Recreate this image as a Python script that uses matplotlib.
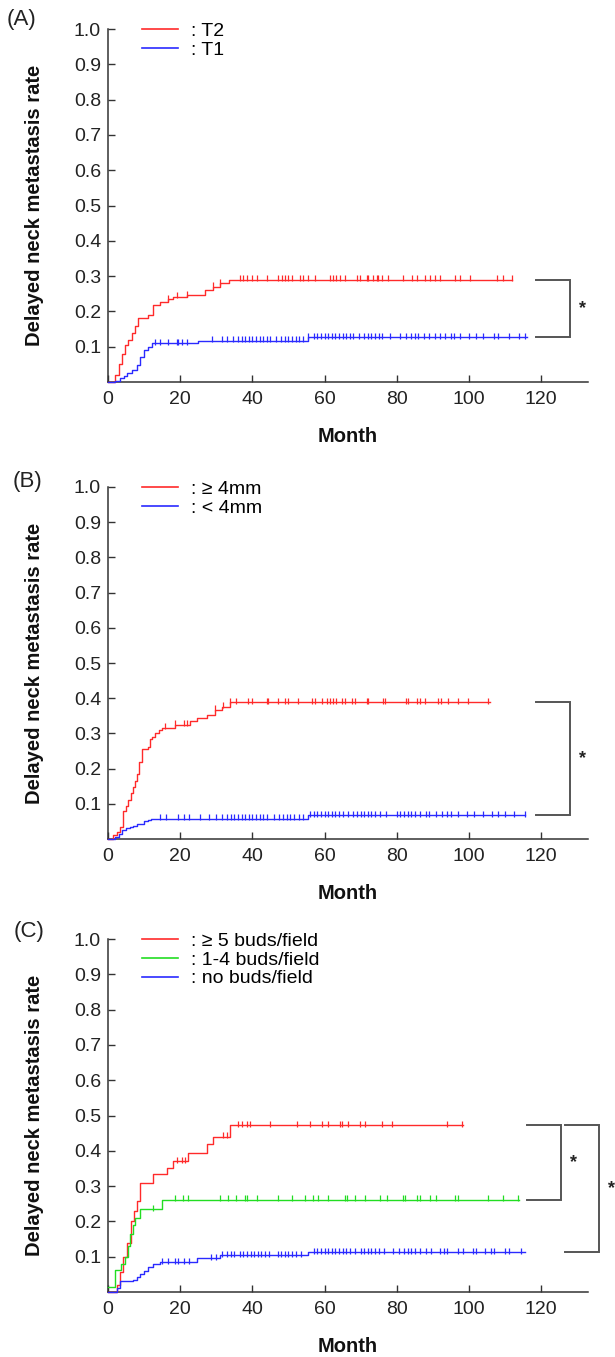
import numpy as np
import matplotlib
matplotlib.use("Agg")
import matplotlib.pyplot as plt
from matplotlib.lines import Line2D

plt.rcParams['font.family'] = ['Liberation Sans', 'DejaVu Sans']

RED = '#ff2a2a'
BLUE = '#2a2aff'
GREEN = '#22dd22'

# ---------------- Data ----------------
# Panel A
A_T2_times = [0, 2, 3, 4, 4.7, 5.5, 6.6, 7.5, 8.4, 11.2, 12.6, 14.4, 16.5, 18.1, 21.8, 26.9, 29.2, 31.0, 33.4]
A_T2_vals = [0, 0.02, 0.05, 0.08, 0.105, 0.12, 0.138, 0.16, 0.18, 0.19, 0.218, 0.228, 0.235, 0.242, 0.246, 0.26, 0.27, 0.28, 0.29]
A_T2_end = 112
A_T2_cens = [16.7, 19.0, 21.8, 29.2, 31.0, 36.6, 37.5, 38.4, 39.8, 41.2, 44.0, 47.2, 48.1, 49.0, 50.0,
             50.9, 53.2, 54.1, 55.5, 57.3, 61.5, 62.4, 63.3, 64.3, 65.7, 68.9, 69.8, 71.7, 72.1, 73.5,
             74.4, 74.9, 75.8, 77.7, 81.8, 84.1, 85.5, 87.8, 89.2, 90.6, 92.0, 96.1, 97.5, 100.3,
             107.7, 109.5, 112.0]

A_T1_times = [0, 2, 3.3, 4.3, 5.2, 6.6, 8.0, 8.9, 9.9, 11.2, 12.1, 25.0, 55.5]
A_T1_vals = [0, 0.004, 0.01, 0.018, 0.025, 0.034, 0.048, 0.072, 0.09, 0.1, 0.11, 0.117, 0.127]
A_T1_end = 116
A_T1_cens = [13, 14.5, 16.5, 19, 19.5, 20.5, 22, 28.7, 31.5, 33, 34.5, 36, 37, 38, 39, 40, 41, 42, 43,
             44, 45, 46.5, 48, 49, 50, 51, 52, 53, 54, 55.5, 57, 58, 59, 60, 61, 62, 63, 64, 65, 66,
             67, 68, 69.5, 71, 72, 73, 74, 75, 76, 78, 81, 82.5, 84, 85, 86, 87.5, 89, 90.5, 92, 93.5,
             95, 96, 97.5, 100, 102, 104, 107, 108, 111, 114, 115.5]

# Panel B
B_hi_times = [0, 1.5, 2.5, 3.3, 4.2, 5.0, 5.6, 6.3, 7.0, 7.6, 8.1, 8.7, 9.3, 11.2, 11.6, 12.3, 13.0,
              14.0, 14.9, 18.6, 22.7, 24.6, 27.3, 29.6, 31.5, 33.8]
B_hi_vals = [0, 0.01, 0.02, 0.035, 0.08, 0.095, 0.11, 0.13, 0.147, 0.165, 0.184, 0.22, 0.255, 0.26,
             0.283, 0.29, 0.30, 0.31, 0.316, 0.325, 0.334, 0.344, 0.353, 0.367, 0.376, 0.388]
B_hi_end = 105.8
B_hi_cens = [15.8, 18.6, 21, 22, 29.6, 32, 33.8, 35.6, 38.9, 39.8, 44.0, 44.4, 47.2, 49.0, 50.0, 52.7,
             56.4, 57.3, 59.2, 60.6, 61.5, 62.4, 63.3, 64.7, 65.7, 67.5, 68.4, 71.7, 72.1, 76.3, 76.7,
             82.7, 83.2, 85.5, 86.4, 87.8, 91.5, 92.4, 94.3, 97.0, 99.8, 105.4]

B_lo_times = [0, 2, 3, 4, 5, 6, 7, 8, 10, 11, 12, 55.5]
B_lo_vals = [0, 0.005, 0.015, 0.025, 0.03, 0.035, 0.038, 0.044, 0.05, 0.053, 0.058, 0.068]
B_lo_end = 115.5
B_lo_cens = [14.5, 16, 19.5, 21, 22.5, 25.5, 28, 30, 31.5, 33, 34, 35, 36, 37, 38, 39, 40, 41, 42, 43,
             44, 46, 47.5, 48.5, 49.5, 50.5, 51.5, 53, 54, 56, 57, 58, 59, 60, 61, 62, 63, 64, 65,
             66.5, 68, 69, 70, 71, 72, 73, 74, 75.5, 77, 80, 81, 82, 83, 84, 85, 86.5, 88, 89, 91,
             92.5, 94, 95, 97, 99.5, 101.5, 104, 106.5, 108, 110, 112.5, 115.5]

# Panel C
C_hi_times = [0, 2.4, 3.3, 4.2, 5.2, 6.5, 7.2, 7.9, 8.9, 12.6, 16.3, 18.1, 22.3, 27.3, 29.2, 33.8]
C_hi_vals = [0, 0.02, 0.057, 0.1, 0.14, 0.2, 0.23, 0.258, 0.31, 0.333, 0.352, 0.37, 0.394, 0.418,
             0.44, 0.472]
C_hi_end = 98.4
C_hi_cens = [19, 20.5, 21.3, 32, 32.9, 36.1, 37, 38.4, 39.3, 44.9, 52.3, 56, 59.2, 61, 64.3, 64.7,
             66.6, 69.8, 71.2, 75.8, 78.6, 93.8, 98]

C_mid_times = [0, 1.9, 3.5, 4.7, 5.5, 6.1, 6.8, 7.5, 8.9, 14.9]
C_mid_vals = [0.015, 0.062, 0.08, 0.1, 0.13, 0.165, 0.19, 0.21, 0.235, 0.262]
C_mid_end = 114
C_mid_cens = [12.6, 18.6, 20.9, 22.3, 31, 33.3, 35.6, 38, 38.4, 41.2, 47.2, 50.9, 54.6, 56.9, 58.3,
              61, 65.7, 66.1, 68.4, 71.2, 75.3, 77.2, 81.8, 82.3, 85.5, 86.4, 89.2, 91, 96.1, 97,
              105.4, 109.5, 113.7]

C_lo_times = [0, 2.4, 3.3, 7.0, 8.0, 9.0, 10.0, 11.2, 12.5, 14.4, 24.6, 31.0, 55.5]
C_lo_vals = [0, 0.01, 0.03, 0.034, 0.042, 0.05, 0.06, 0.071, 0.08, 0.085, 0.095, 0.104, 0.113]
C_lo_end = 115.5
C_lo_cens = [15, 16.5, 18.5, 19.5, 21, 22.5, 28.5, 30, 31.5, 33, 34, 35, 36.5, 37.5, 38.5, 39.5, 40.5,
             41.5, 42.5, 43.5, 44.5, 47, 48, 49, 50, 51, 52, 53.5, 57, 58, 59, 60, 61, 62, 63, 64,
             65, 66, 67, 68.5, 70, 71, 72, 73, 74, 75, 76.5, 79, 80.5, 82, 83, 84, 85, 86.5, 88,
             89.5, 92, 93, 94, 97, 98.5, 101, 102, 104.5, 106, 107, 110, 111, 114.5]

x_ticks = [0, 20, 40, 60, 80, 100, 120]
y_ticks = [0.1, 0.2, 0.3, 0.4, 0.5, 0.6, 0.7, 0.8, 0.9, 1.0]
y_tick_labels = ['0.1', '0.2', '0.3', '0.4', '0.5', '0.6', '0.7', '0.8', '0.9', '1.0']

panels = [
    dict(tag='(A)', tagx=7, tagdy=9,
         curves=[(A_T2_times, A_T2_vals, A_T2_end, A_T2_cens, RED, ': T2'),
                 (A_T1_times, A_T1_vals, A_T1_end, A_T1_cens, BLUE, ': T1')],
         brackets=[(0, 1, 118.6, 128.0, 131.4)]),
    dict(tag='(B)', tagx=13, tagdy=5,
         curves=[(B_hi_times, B_hi_vals, B_hi_end, B_hi_cens, RED, ': \u2265 4mm'),
                 (B_lo_times, B_lo_vals, B_lo_end, B_lo_cens, BLUE, ': < 4mm')],
         brackets=[(0, 1, 118.6, 128.0, 131.4)]),
    dict(tag='(C)', tagx=14, tagdy=7,
         curves=[(C_hi_times, C_hi_vals, C_hi_end, C_hi_cens, RED, ': \u2265 5 buds/field'),
                 (C_mid_times, C_mid_vals, C_mid_end, C_mid_cens, GREEN, ': 1-4 buds/field'),
                 (C_lo_times, C_lo_vals, C_lo_end, C_lo_cens, BLUE, ': no buds/field')],
         brackets=[(0, 1, 116.1, 125.6, 128.9), (0, 2, 126.7, 136.1, 139.4)]),
]

W, H = 615, 1357
fig = plt.figure(figsize=(W / 100, H / 100), dpi=100)

tops = [29, 487, 939]
bottoms = [382, 839, 1292]
left_px, right_px = 108, 588
XMAX = 133

for p, top, bot in zip(panels, tops, bottoms):
    ax = fig.add_axes([left_px / W, 1 - bot / H, (right_px - left_px) / W, (bot - top) / H])
    ax.set_xlim(0, XMAX)
    ax.set_ylim(0, 1.0)
    for s in ['top', 'right']:
        ax.spines[s].set_visible(False)
    for s in ['left', 'bottom']:
        ax.spines[s].set_color('#333333')
        ax.spines[s].set_linewidth(1.1)
    ax.set_xticks(x_ticks)
    ax.set_yticks(y_ticks)
    ax.set_yticklabels(y_tick_labels)
    ax.tick_params(direction='in', length=5, width=1.0, color='#333333', labelsize=14,
                   labelcolor='#222222', pad=5)
    ax.tick_params(axis='x', pad=6.5)

    handles, labels = [], []
    plateaus = []
    for times, vals, end, cens, col, lab in p['curves']:
        t = np.array(list(times) + [end], dtype=float)
        v = np.array(list(vals) + [vals[-1]], dtype=float)
        ax.step(t, v, where='post', color=col, lw=1.0, clip_on=False, zorder=3)
        c = np.asarray(cens, dtype=float)
        idx = np.searchsorted(np.asarray(times, dtype=float), c, side='right') - 1
        cv = np.asarray(vals, dtype=float)[idx]
        ax.plot(c, cv + 0.004, linestyle='none', marker='|', ms=4, mew=0.9, color=col, zorder=3)
        handles.append(Line2D([], [], color=col, lw=1.2))
        labels.append(lab)
        plateaus.append(vals[-1])

    for i, j, x0, x1, xs in p['brackets']:
        y0, y1 = plateaus[i], plateaus[j]
        ax.plot([x0, x1, x1, x0], [y0, y0, y1, y1], color='#555555', lw=1.4, clip_on=False,
                solid_joinstyle='miter')
        ax.text(xs, (y0 + y1) / 2, '*', ha='center', va='center', fontsize=13, color='#222222',
                fontweight='bold', clip_on=False)

    ax.legend(handles, labels, loc='upper left', bbox_to_anchor=(0.071, 1.018), frameon=False,
              borderpad=0, borderaxespad=0, handlelength=1.85, handletextpad=0.67,
              labelspacing=0.05, fontsize=14)

    ax.set_ylabel('Delayed neck metastasis rate', fontsize=14.5, fontweight='bold', color='#111111')
    ax.yaxis.set_label_coords(-0.133, 0.5)
    ax.set_xlabel('Month', fontsize=14.5, fontweight='bold', color='#111111')
    ax.xaxis.set_label_coords(0.5, -0.128)

    fig.text(p['tagx'] / W, 1 - (top - p['tagdy']) / H, p['tag'], fontsize=16, ha='left',
             va='center', color='#222222')

fig.savefig('out.png', dpi=100)
